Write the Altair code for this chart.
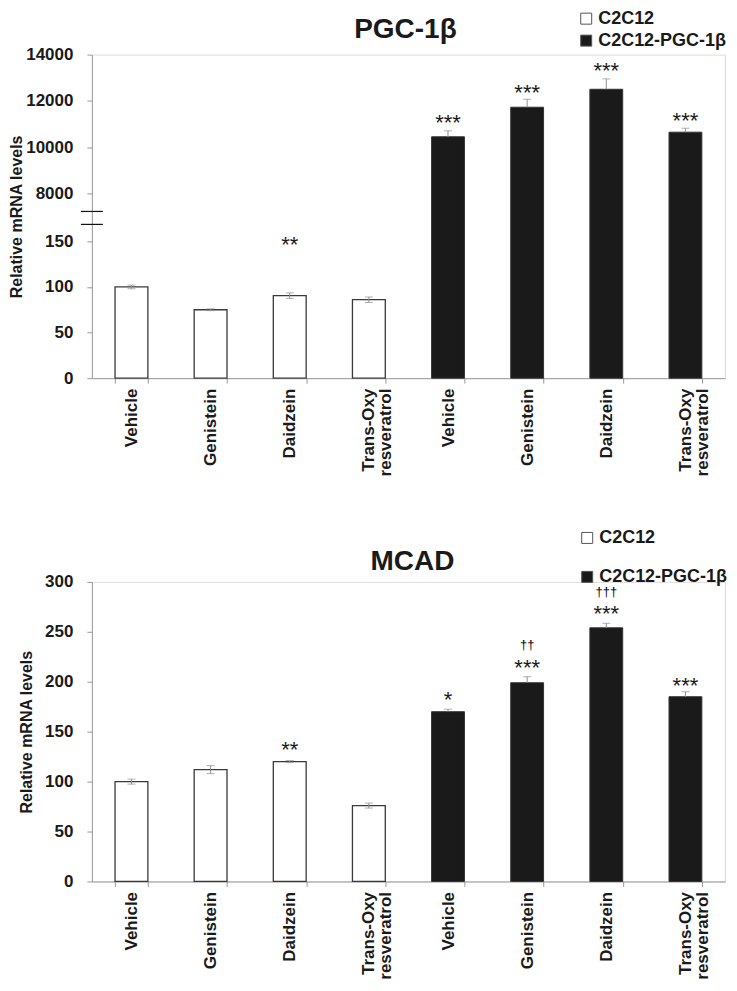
import altair as alt
import pandas as pd

FONT = "Liberation Sans"
INK = "#1a1a1a"
GREY = "#9a9a9a"

groups = ["C2C12", "C2C12-PGC-1β"]
treatments = ["Vehicle", "Genistein", "Daidzein", "Trans-Oxy|resveratrol"]

# ---------------- PGC-1β panel (broken y axis) ----------------
pgc_title = "PGC-1β"
pgc_white_mean = [100, 75, 90.5, 86]
pgc_white_err = [2, 1, 3, 3]
pgc_dark_mean = [10444, 11723, 12500, 10643]
pgc_dark_err = [259, 346, 450, 172]
pgc_white_sig = ["", "", "**", ""]
pgc_white_sig_y = [0, 0, 153, 0]
pgc_dark_sig = ["***", "***", "***", "***"]
pgc_dark_sig_y = [11278, 12617, 13568, 11407]
pgc_upper_ticks = [8000, 10000, 12000, 14000]
pgc_lower_ticks = [0, 50, 100, 150]
pgc_break_marks = [168.6, 182.8]

# ---------------- MCAD panel ----------------
mcad_title = "MCAD"
mcad_white_mean = [100, 112, 120, 76]
mcad_white_err = [2.5, 4, 1, 2.5]
mcad_dark_mean = [170, 199, 254, 185]
mcad_dark_err = [2.5, 6, 4.5, 5]
mcad_white_sig = ["", "", "**", ""]
mcad_white_sig_y = [0, 0, 138, 0]
mcad_dark_sig = ["*", "***", "***", "***"]
mcad_dark_sig_y = [188, 219.6, 274.2, 201.8]
mcad_dark_dag = ["", "††", "†††", ""]
mcad_dark_dag_y = [0, 236.7, 289.7, 0]
mcad_ticks = [0, 50, 100, 150, 200, 250, 300]

y_title = "Relative mRNA levels"
prefixes = ["A", "B"]
keys = [f"{p}|{t}" for p in prefixes for t in treatments]

W = 634


def bars_df(means, errs, group, prefix, two_sided):
    return pd.DataFrame([
        dict(key=f"{prefix}|{t}", group=group, mean=m,
             lo=(m - e) if two_sided else m, hi=m + e)
        for t, m, e in zip(treatments, means, errs)
    ])


def sig_df(prefix, labels, ys):
    return pd.DataFrame([
        dict(key=f"{prefix}|{t}", label=l, y=y)
        for t, l, y in zip(treatments, labels, ys) if l
    ])


def x_enc():
    return alt.X(
        "key:N", sort=keys, title=None,
        scale=alt.Scale(domain=keys, paddingInner=0.585, paddingOuter=0.2925),
        axis=alt.Axis(
            labelAngle=-90, labelExpr="slice(split(datum.label, '|'), 1)",
            labelFont=FONT, labelFontSize=17, labelFontWeight="bold",
            labelColor=INK, labelLineHeight=17, labelPadding=5, labelLimit=200,
            tickBand="extent", tickSize=5, tickColor=GREY, domainColor=GREY,
        ),
    )


fill_scale = alt.Scale(domain=groups, range=["#ffffff", INK])


def fill_enc(lx, ly, rowpad):
    return alt.Fill(
        "group:N", scale=fill_scale,
        legend=alt.Legend(
            title=None, orient="none", legendX=lx, legendY=ly,
            symbolType="square", symbolSize=121, symbolStrokeColor="#555555",
            symbolStrokeWidth=1, symbolOpacity=1,
            labelFont=FONT, labelFontSize=18, labelFontWeight="bold",
            labelColor=INK, rowPadding=rowpad, labelOffset=3, labelLimit=300,
        ),
    )


def y_axis(values, title=None, domain=True, title_pad=2):
    kw = dict(
        values=values, orient="left", grid=False, format="d",
        labelFont=FONT, labelFontSize=17, labelFontWeight="bold",
        labelColor=INK, labelPadding=14, tickSize=5, tickColor=GREY,
        domain=domain, domainColor=GREY,
    )
    if title:
        kw.update(title=title, titleFont=FONT, titleFontSize=16,
                  titleFontWeight="bold", titleColor=INK, titlePadding=title_pad)
    else:
        kw.update(title=None)
    return alt.Axis(**kw)


def title_layer(text, x, y):
    return alt.Chart(pd.DataFrame({"t": [text]})).mark_text(
        font=FONT, fontSize=28, fontWeight="bold", color=INK,
        baseline="alphabetic", align="center",
    ).encode(text="t:N", x=alt.value(x), y=alt.value(y))


def panel_layers(white, dark, white_sig, dark_sig, y_w, y_d, fill, dag=None):
    wb = alt.Chart(white).mark_bar(stroke="#3a3a3a", strokeWidth=1.3).encode(
        x=x_enc(), y=y_w("mean"), fill=fill)
    wr = alt.Chart(white).mark_rule(color="#8f8f8f", strokeWidth=1).encode(
        x=x_enc(), y=y_w("lo"), y2="hi:Q")
    wc1 = alt.Chart(white).mark_tick(color="#8f8f8f", size=8, thickness=1).encode(
        x=x_enc(), y=y_w("lo"))
    wc2 = alt.Chart(white).mark_tick(color="#8f8f8f", size=8, thickness=1).encode(
        x=x_enc(), y=y_w("hi"))
    wt = alt.Chart(white_sig).mark_text(font=FONT, fontSize=22, baseline="alphabetic",
                                        dy=13, color=INK).encode(
        x=x_enc(), y=y_w("y"), text="label:N")
    db = alt.Chart(dark).mark_bar(stroke="#333333", strokeWidth=1).encode(
        x=x_enc(), y=y_d("mean"), fill=fill)
    dr = alt.Chart(dark).mark_rule(color="#8f8f8f", strokeWidth=1).encode(
        x=x_enc(), y=y_d("lo"), y2="hi:Q")
    dc = alt.Chart(dark).mark_tick(color="#8f8f8f", size=8, thickness=1).encode(
        x=x_enc(), y=y_d("hi"))
    dt = alt.Chart(dark_sig).mark_text(font=FONT, fontSize=22, baseline="alphabetic",
                                       dy=13, color=INK).encode(
        x=x_enc(), y=y_d("y"), text="label:N")
    wl = [wb, wr, wc1, wc2, wt]
    dl = [db, dr, dc, dt]
    if dag is not None:
        dl.append(alt.Chart(dag).mark_text(font=FONT, fontSize=13,
                                           baseline="alphabetic", dy=4, color="#000000").encode(
            x=x_enc(), y=y_d("y"), text="label:N"))
    return wl, dl


# ---------- top panel ----------
upper_scale = alt.Scale(domain=[0, 14000], nice=False, zero=True)
lower_scale = alt.Scale(domain=[0, 150], range=[324, 187], nice=False)
upper_axis = y_axis(pgc_upper_ticks, y_title, True, 1)
lower_axis = y_axis(pgc_lower_ticks, None, False)


def y_upper(f):
    return alt.Y(f, type="quantitative", scale=upper_scale, axis=upper_axis)


def y_lower(f):
    return alt.Y(f, type="quantitative", scale=lower_scale, axis=lower_axis)


top_fill = fill_enc(486, -45, 4)
tw, td = panel_layers(
    bars_df(pgc_white_mean, pgc_white_err, groups[0], "A", True),
    bars_df(pgc_dark_mean, pgc_dark_err, groups[1], "B", False),
    sig_df("A", pgc_white_sig, pgc_white_sig_y),
    sig_df("B", pgc_dark_sig, pgc_dark_sig_y),
    y_lower, y_upper, top_fill,
)
breaks = alt.Chart(pd.DataFrame({"v": pgc_break_marks})).mark_rule(
    color="#111111", strokeWidth=1.2).encode(
    y=y_lower("v"), x=alt.value(-11), x2=alt.value(11))

top = alt.layer(
    alt.layer(*td, title_layer(pgc_title, 314, -17)),
    alt.layer(*tw, breaks),
).resolve_scale(y="independent").properties(width=W, height=324)

# ---------- bottom panel ----------
mcad_scale = alt.Scale(domain=[0, 300], nice=False)
mcad_axis = y_axis(mcad_ticks, y_title, True, 10)


def y_mcad(f):
    return alt.Y(f, type="quantitative", scale=mcad_scale, axis=mcad_axis)


bot_fill = fill_enc(487, -53, 21)
bw, bd = panel_layers(
    bars_df(mcad_white_mean, mcad_white_err, groups[0], "A", True),
    bars_df(mcad_dark_mean, mcad_dark_err, groups[1], "B", False),
    sig_df("A", mcad_white_sig, mcad_white_sig_y),
    sig_df("B", mcad_dark_sig, mcad_dark_sig_y),
    y_mcad, y_mcad, bot_fill,
    dag=sig_df("B", mcad_dark_dag, mcad_dark_dag_y),
)
bottom = alt.layer(*bw, *bd, title_layer(mcad_title, 321, -12)).properties(
    width=W, height=300)

chart = alt.vconcat(top, bottom, spacing=51).resolve_scale(
    x="independent", y="independent", fill="independent"
).resolve_legend(fill="independent").properties(
    padding={"left": 0, "top": 0, "right": 0, "bottom": 0},
    background="white",
).configure_view(stroke=None).configure(font=FONT)

chart.save("out.html", embed_options={"renderer": "svg", "actions": False})
